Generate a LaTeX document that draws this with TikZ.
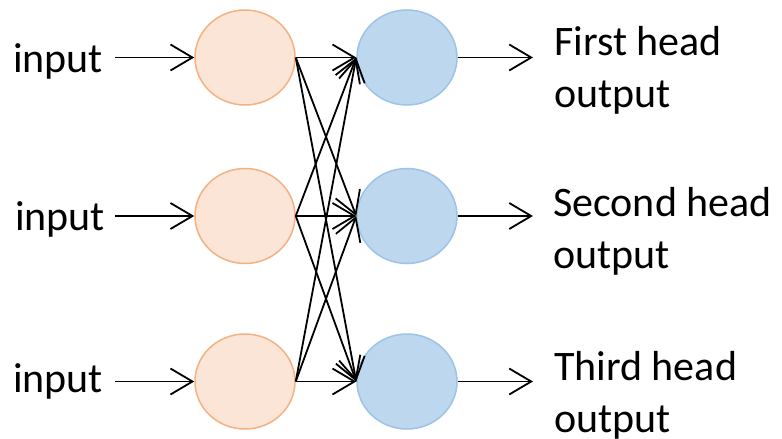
\documentclass[tikz,border=0pt]{standalone}
\usepackage{fontspec}
\setmainfont{Carlito}
\usetikzlibrary{arrows.meta,shapes.geometric}
\definecolor{inFill}{HTML}{FBE5D6}
\definecolor{inLine}{HTML}{F4B183}
\definecolor{headFill}{HTML}{BDD7EE}
\definecolor{headLine}{HTML}{9DC3E6}
\begin{document}
\begin{tikzpicture}[x=1pt,y=-1pt,
  unit/.style={ellipse, minimum width=100pt, minimum height=95pt, inner sep=0pt, line width=1.5pt},
  inunit/.style={unit, fill=inFill, draw=inLine},
  headunit/.style={unit, fill=headFill, draw=headLine},
  link/.style={draw=black, line width=1.8pt, -{Straight Barb[length=22pt,width=26pt]}},
  lbl/.style={anchor=base west, inner sep=0pt, font=\fontsize{42}{52}\selectfont, align=left}]
\useasboundingbox (0,0) rectangle (782,439);

% input units and attention heads
\node[inunit] (i1) at (245,57.5) {};
\node[inunit] (i2) at (245,216) {};
\node[inunit] (i3) at (245,381.5) {};
\node[headunit] (h1) at (407,57.5) {};
\node[headunit] (h2) at (407,216) {};
\node[headunit] (h3) at (407,381.5) {};

% labels (base anchor sits on the last line)
\node[lbl] (t1) at (13,72) {input};
\node[lbl] (t2) at (15,230) {input};
\node[lbl] (t3) at (13,392) {input};
\node[lbl] (o1) at (554,107) {First head\\output};
\node[lbl] (o2) at (553,268) {Second head\\output};
\node[lbl] (o3) at (554,432) {Third head\\output};

% free ends of the input and output arrows
\coordinate (a1) at (115,57.5);
\coordinate (a2) at (115,216);
\coordinate (a3) at (115,381.5);
\coordinate (b1) at (533,57.5);
\coordinate (b2) at (533,216);
\coordinate (b3) at (533,381.5);

\foreach \k in {1,2,3} {
  \draw[link] (a\k) -- (i\k.west);
  \draw[link] (h\k.east) -- (b\k);
}
% every input unit feeds every head
\foreach \i in {1,2,3} {
  \foreach \j in {1,2,3} {
    \draw[link] (i\i.east) -- (h\j.west);
  }
}
\end{tikzpicture}
\end{document}
